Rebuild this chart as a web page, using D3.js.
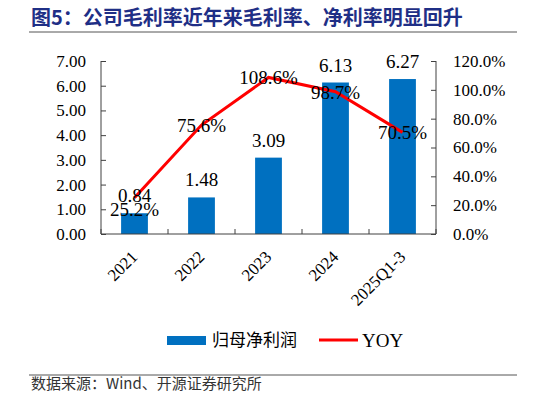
<!DOCTYPE html>
<html>
<head>
<meta charset="utf-8">
<script src="https://cdn.jsdelivr.net/npm/d3@7"></script>
<style>
  body { margin: 0; background: #fff; }
  svg { display: block; }
</style>
</head>
<body>
<svg id="chart" width="546" height="405"></svg>
<script>
// chart data
var categories = ["2021", "2022", "2023", "2024", "2025Q1-3"];
var profit = [0.84, 1.48, 3.09, 6.13, 6.27];
var yoy = [25.2, 75.6, 108.6, 98.7, 70.5];
var leftTicks = [0, 1, 2, 3, 4, 5, 6, 7];
var rightTicks = [0, 20, 40, 60, 80, 100, 120];

var titleText = "图5：公司毛利率近年来毛利率、净利率明显回升";
var sourceText = "数据来源：Wind、开源证券研究所";
var legendLabels = ["归母净利润", "YOY"];

var svg = d3.select("#chart");
var serif = "'Liberation Serif', 'Times New Roman', serif";
var cjk = "'Noto Sans CJK SC', sans-serif";
var axisColor = "#404040";

// title and rules
svg.append("text")
  .attr("x", 31).attr("y", 25)
  .attr("font-family", cjk).attr("font-weight", "bold")
  .attr("font-size", 20).attr("fill", "#1f2f86")
  .text(titleText);
svg.append("line").attr("x1", 29).attr("x2", 517).attr("y1", 32).attr("y2", 32)
  .attr("stroke", "#555").attr("stroke-width", 1);
svg.append("line").attr("x1", 29).attr("x2", 517).attr("y1", 375).attr("y2", 375)
  .attr("stroke", "#555").attr("stroke-width", 1);
svg.append("text")
  .attr("x", 31).attr("y", 389)
  .attr("font-family", cjk).attr("font-size", 15).attr("fill", "#333")
  .text(sourceText);

// plot area
var plotLeft = 101, plotRight = 436, plotTop = 61, plotBottom = 234;

var x = d3.scaleBand().domain(categories).range([plotLeft, plotRight]);
var yL = d3.scaleLinear().domain([0, 7]).range([plotBottom, plotTop]);
var yR = d3.scaleLinear().domain([0, 120]).range([plotBottom, plotTop]);

// bars
var barW = x.bandwidth() * 0.4;
svg.selectAll("rect.bar")
  .data(profit)
  .enter()
  .append("rect")
  .attr("class", "bar")
  .attr("x", function (d, i) { return x(categories[i]) + (x.bandwidth() - barW) / 2; })
  .attr("width", barW)
  .attr("y", function (d) { return yL(d); })
  .attr("height", function (d) { return plotBottom - yL(d); })
  .attr("fill", "#0070c0");

// axes
var leftAxis = svg.append("g")
  .attr("transform", "translate(" + plotLeft + ",0)")
  .call(d3.axisLeft(yL).tickValues(leftTicks).tickSize(-5).tickPadding(15)
    .tickFormat(d3.format(".2f")));
var rightAxis = svg.append("g")
  .attr("transform", "translate(" + plotRight + ",0)")
  .call(d3.axisRight(yR).tickValues(rightTicks).tickSize(-5).tickPadding(17)
    .tickFormat(function (d) { return d.toFixed(1) + "%"; }));
[leftAxis, rightAxis].forEach(function (g) {
  g.select(".domain").attr("d", "M0," + plotTop + "V" + plotBottom);
  g.selectAll("line").attr("stroke", axisColor);
  g.select(".domain").attr("stroke", axisColor);
  g.selectAll("text").attr("font-family", serif).attr("font-size", 17).attr("fill", "#000");
});

// bottom axis with boundary ticks
var bottomAxis = svg.append("g").attr("transform", "translate(0," + plotBottom + ")");
bottomAxis.append("line").attr("x1", plotLeft).attr("x2", plotRight)
  .attr("stroke", axisColor);
var bounds = categories.map(function (c) { return x(c); }).concat([plotRight]);
bottomAxis.selectAll("line.tk")
  .data(bounds)
  .enter()
  .append("line")
  .attr("class", "tk")
  .attr("x1", function (d) { return d; }).attr("x2", function (d) { return d; })
  .attr("y1", 0).attr("y2", -5)
  .attr("stroke", axisColor);
bottomAxis.selectAll("text")
  .data(categories)
  .enter()
  .append("text")
  .attr("transform", function (d) {
    return "translate(" + (x(d) + x.bandwidth() / 2 + 4) + ",24) rotate(-45)";
  })
  .attr("text-anchor", "end")
  .attr("font-family", serif).attr("font-size", 17)
  .text(function (d) { return d; });

// YOY line
var line = d3.line()
  .x(function (d, i) { return x(categories[i]) + x.bandwidth() / 2; })
  .y(function (d) { return yR(d); });
svg.append("path")
  .datum(yoy)
  .attr("d", line)
  .attr("fill", "none")
  .attr("stroke", "#ff0000")
  .attr("stroke-width", 3);

// bar value labels
svg.selectAll("text.barlab")
  .data(profit)
  .enter()
  .append("text")
  .attr("class", "barlab")
  .attr("x", function (d, i) { return x(categories[i]) + x.bandwidth() / 2; })
  .attr("y", function (d) { return yL(d) - 11; })
  .attr("text-anchor", "middle")
  .attr("font-family", serif).attr("font-size", 19)
  .text(function (d) { return d.toFixed(2); });

// line value labels (the first one sits below its point)
svg.selectAll("text.yoylab")
  .data(yoy)
  .enter()
  .append("text")
  .attr("class", "yoylab")
  .attr("x", function (d, i) { return x(categories[i]) + x.bandwidth() / 2; })
  .attr("y", function (d, i) { return yR(d) + (i === 0 ? 18 : 7); })
  .attr("text-anchor", "middle")
  .attr("font-family", serif).attr("font-size", 19)
  .text(function (d) { return d.toFixed(1) + "%"; });

// legend
var legend = svg.append("g");
legend.append("rect").attr("x", 167).attr("y", 336).attr("width", 39).attr("height", 9)
  .attr("fill", "#0070c0");
legend.append("text").attr("x", 212).attr("y", 346)
  .attr("font-family", cjk).attr("font-size", 17)
  .text(legendLabels[0]);
legend.append("line").attr("x1", 319).attr("x2", 358).attr("y1", 340).attr("y2", 340)
  .attr("stroke", "#ff0000").attr("stroke-width", 3);
legend.append("text").attr("x", 362).attr("y", 347)
  .attr("font-family", serif).attr("font-size", 19)
  .text(legendLabels[1]);
</script>
</body>
</html>
